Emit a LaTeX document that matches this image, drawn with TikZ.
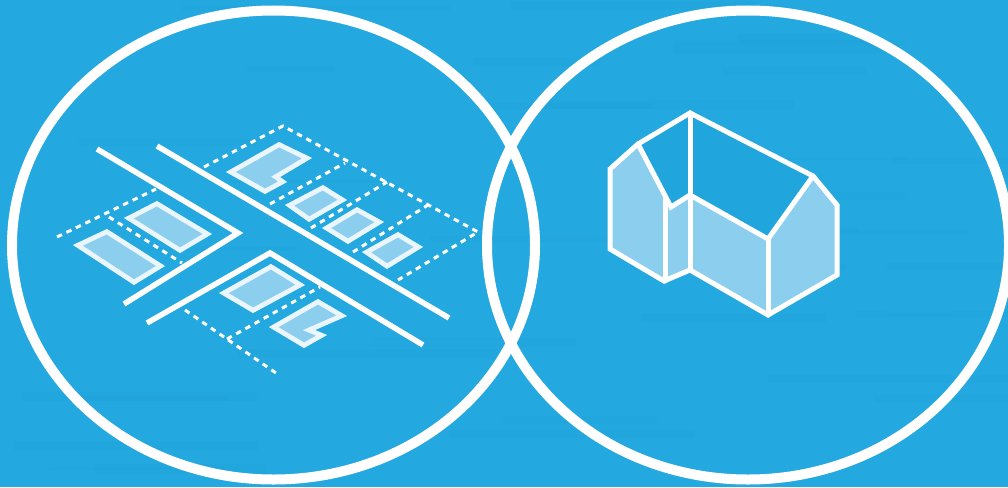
\documentclass[tikz,border=0pt]{standalone}
\definecolor{bgblue}{HTML}{23A8E0}
\definecolor{roofblue}{HTML}{21A5DD}
\definecolor{lotfill}{HTML}{8CCEEE}
\definecolor{lotedge}{HTML}{EAF6FC}
\definecolor{streakdark}{HTML}{1A9AD2}
\definecolor{streaklight}{HTML}{2FB0E6}
\tikzset{
  ring/.style={draw=white,line width=10},
  road/.style={draw=white,line width=5.5,line join=miter,line cap=butt},
  lotline/.style={draw=white,line width=3,dash pattern=on 5.5 off 5},
  face/.style={fill=lotfill,draw=none},
  roof/.style={fill=roofblue,draw=none},
  houseline/.style={draw=white,line width=5,line join=miter,line cap=round},
  streak/.style={fill=#1,fill opacity=0.1,draw=none},
}
\newcommand{\lotshape}[1]{%
  \begin{scope}\clip #1;\path[fill=lotfill,draw=lotedge,line width=9.5,line join=miter] #1;\end{scope}}
\begin{document}
\begin{tikzpicture}[x=1pt,y=-1pt]
\path[fill=bgblue] (0,0) rectangle (1008,487);
\useasboundingbox (0,0) rectangle (1008,487);
% faint background texture
\pgfmathsetseed{7}
\begin{scope}
\clip (0,0) rectangle (1008,487);
\foreach \i in {1,...,70}{
  \pgfmathsetmacro{\sx}{random(0,950)}
  \pgfmathsetmacro{\sy}{random(0,480)}
  \pgfmathsetmacro{\sw}{random(60,300)}
  \pgfmathsetmacro{\sh}{random(3,10)}
  \pgfmathparse{mod(\i,2)==0 ? "streakdark" : "streaklight"}
  \edef\sc{\pgfmathresult}
  \path[streak=\sc] (\sx,\sy) rectangle ++(\sw,\sh);
}
\end{scope}
% circles
\draw[ring] (273.5,245) ellipse [x radius=261.5,y radius=234.5];
\draw[ring] (748,245) ellipse [x radius=261,y radius=234.5];
% roads
\draw[road] (97,149) -- (238,233) -- (124,304);
\draw[road] (157,146) -- (449,318);
\draw[road] (147,323) -- (270,253) -- (423,345);
% dashed lot lines
\draw[lotline] (57,237) -- (156,189);
\draw[lotline] (109,217) -- (182,263);
\draw[lotline] (204,167) -- (283,126) -- (478,232) -- (398,280);
\draw[lotline] (270,204) -- (345,163);
\draw[lotline] (311,228) -- (387,182);
\draw[lotline] (353,252) -- (428,205);
\draw[lotline] (185,310) -- (276,373);
\draw[lotline] (227,339) -- (320,287);
% buildings
\lotshape{(124,218) -- (157,201) -- (212,234) -- (180,253) -- cycle}
\lotshape{(73,245) -- (107,229) -- (165,266) -- (134,285) -- cycle}
\lotshape{(226,172) -- (279,142) -- (312,158) -- (280,177) -- (287,182) -- (265,194) -- cycle}
\lotshape{(285,205) -- (323,185) -- (347,200) -- (309,222) -- cycle}
\lotshape{(322,228) -- (357,207) -- (384,222) -- (348,244) -- cycle}
\lotshape{(362,252) -- (398,232) -- (423,247) -- (387,269) -- cycle}
\lotshape{(219,293) -- (271,264) -- (305,285) -- (253,313) -- cycle}
\lotshape{(269,327) -- (318,299) -- (347,316) -- (315,330) -- (327,335) -- (304,348) -- cycle}
% house
\path[face] (610,169) -- (638,144) -- (671,207) -- (690,195) -- (768,239) -- (813,176) -- (837,205) -- (837,275) -- (768,315) -- (690,270) -- (664,281) -- (610,249) -- cycle;
\path[roof] (638,144) -- (690,113) -- (813,176) -- (768,239) -- (690,195) -- (671,207) -- cycle;
\draw[houseline] (610,169) -- (638,144) -- (690,113) -- (813,176) -- (837,205) -- (837,275) -- (768,315) -- (690,270) -- (664,281) -- (610,249) -- cycle;
\draw[houseline] (690,113) -- (690,270);
\draw[houseline] (638,144) -- (671,207) -- (690,195) -- (768,239) -- (813,176);
\draw[houseline] (768,239) -- (768,315);
\draw[houseline] (665,200) -- (665,281);
\end{tikzpicture}
\end{document}
